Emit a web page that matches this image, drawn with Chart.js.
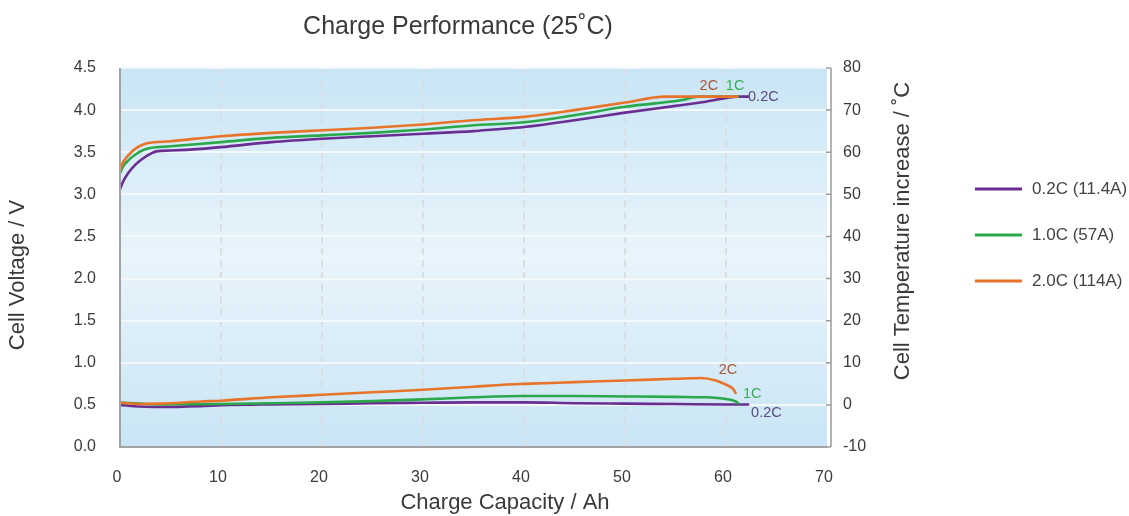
<!DOCTYPE html>
<html>
<head>
<meta charset="utf-8">
<script src="https://cdn.jsdelivr.net/npm/chart.js@4/dist/chart.umd.min.js"></script>
<style>
html,body{margin:0;padding:0;background:#fff;}
#wrap{width:1129px;height:516px;position:relative;}
</style>
</head>
<body>
<div id="wrap"><canvas id="c" width="1129" height="516"></canvas></div>
<script>
// ---- Data ----
const xTicks = [0, 10, 20, 30, 40, 50, 60, 70];
const voltTicks = [0.0, 0.5, 1.0, 1.5, 2.0, 2.5, 3.0, 3.5, 4.0, 4.5];
const tempTicks = [-10, 0, 10, 20, 30, 40, 50, 60, 70, 80];

const seriesNames = ['0.2C (11.4A)', '1.0C (57A)', '2.0C (114A)'];
const shortNames = ['0.2C', '1C', '2C'];

// Voltage curves
const capV02 = [0, 0.3, 0.8, 1.5, 2.2, 3, 3.6, 5, 8, 10, 15, 20, 25, 30, 35, 37, 40, 45, 50, 55, 58, 61.2, 62.3];
const volt02 = [3.06, 3.15, 3.25, 3.35, 3.42, 3.48, 3.51, 3.52, 3.54, 3.56, 3.62, 3.66, 3.69, 3.72, 3.75, 3.77, 3.80, 3.88, 3.97, 4.05, 4.10, 4.16, 4.16];
const capV10 = [0, 0.3, 0.8, 1.5, 2.2, 3, 5, 10, 15, 20, 25, 30, 35, 40, 45, 50, 53, 55.7, 57.2, 61.3];
const volt10 = [3.25, 3.33, 3.40, 3.47, 3.52, 3.55, 3.57, 3.62, 3.67, 3.70, 3.73, 3.77, 3.82, 3.855, 3.94, 4.04, 4.08, 4.12, 4.16, 4.16];
const capV20 = [0, 0.3, 0.8, 1.5, 2.5, 5, 10, 15, 20, 25, 30, 35, 40, 45, 50, 54, 61.2];
const volt20 = [3.28, 3.38, 3.46, 3.54, 3.60, 3.63, 3.69, 3.73, 3.76, 3.79, 3.83, 3.88, 3.92, 4.00, 4.09, 4.16, 4.16];

// Temperature-increase curves
const capT02 = [0, 2, 4, 8, 10, 15, 20, 25, 30, 35, 40, 45, 50, 55, 60, 62.3];
const temp02 = [0, -0.4, -0.5, -0.3, -0.1, 0.1, 0.2, 0.4, 0.5, 0.6, 0.6, 0.4, 0.3, 0.2, 0.1, 0.1];
const capT10 = [0, 2, 4, 10, 15, 20, 25, 30, 35, 40, 45, 50, 55, 58, 60, 61, 61.3];
const temp10 = [0.5, 0.3, 0.1, 0.2, 0.4, 0.6, 0.9, 1.3, 1.8, 2.1, 2.1, 2.0, 1.9, 1.8, 1.4, 0.8, 0.2];
const capT20 = [0, 2, 4, 8, 10, 15, 20, 25, 30, 35, 38, 40, 45, 50, 55, 57.5, 59, 60, 60.7, 61];
const temp20 = [0.5, 0.2, 0.3, 0.8, 1.0, 1.8, 2.4, 3.0, 3.6, 4.3, 4.8, 5.0, 5.4, 5.8, 6.2, 6.4, 5.8, 4.8, 3.8, 2.6];

// ---- Styling ----
const colors = ['#6a2d92', '#2aa84a', '#e8742a'];
const labelColors = ['#5b4a82', '#36ad55', '#a8573a'];
const FONT = "'Liberation Sans', Arial, sans-serif";
const TXT = '#3a3a3a';

function pts(xs, ys){ return xs.map((x,i)=>({x:x, y:ys[i]})); }

// on-chart series labels
const curveLabels = [
  {i:2, x:58.3, y:4.29, axis:'y'},
  {i:1, x:60.9, y:4.29, axis:'y'},
  {i:0, x:63.7, y:4.16, axis:'y'},
  {i:2, x:60.2, y:8.3, axis:'y2'},
  {i:1, x:62.6, y:2.6, axis:'y2'},
  {i:0, x:64.0, y:-1.9, axis:'y2'}
];

function rotText(ctx, text, x, y){
  ctx.save();
  ctx.translate(x, y);
  ctx.rotate(-Math.PI/2);
  ctx.textAlign = 'center';
  ctx.textBaseline = 'middle';
  ctx.fillText(text, 0, 0);
  ctx.restore();
}

const bgPlugin = {
  id:'bg',
  beforeDraw(chart){
    const {ctx, chartArea:a} = chart;
    ctx.save();
    const g = ctx.createLinearGradient(0, a.top, 0, a.bottom);
    g.addColorStop(0, '#c9e5f5');
    g.addColorStop(0.5, '#e9f4fb');
    g.addColorStop(1, '#c9e5f5');
    ctx.fillStyle = g;
    ctx.fillRect(a.left, a.top, a.right - a.left, a.bottom - a.top);
    ctx.restore();
  },
  afterDraw(chart){
    const {ctx, chartArea:a, scales} = chart;
    ctx.save();
    // left & bottom axis lines
    ctx.strokeStyle = '#a3a3a3';
    ctx.lineWidth = 2;
    ctx.beginPath();
    ctx.moveTo(a.left, a.top); ctx.lineTo(a.left, a.bottom); ctx.lineTo(a.right, a.bottom);
    ctx.stroke();
    // right axis with inward ticks
    const rx = a.right + 4;
    ctx.strokeStyle = '#9a9a9a';
    ctx.lineWidth = 1.5;
    ctx.beginPath();
    ctx.moveTo(rx, a.top); ctx.lineTo(rx, a.bottom);
    tempTicks.forEach(t=>{
      const y = scales.y2.getPixelForValue(t);
      ctx.moveTo(a.right - 1, y); ctx.lineTo(rx, y);
    });
    ctx.stroke();
    ctx.restore();

    // titles
    ctx.save();
    ctx.fillStyle = TXT;
    ctx.font = '25px ' + FONT;
    ctx.textAlign = 'center';
    ctx.textBaseline = 'middle';
    ctx.fillText('Charge Performance (25\u02DAC)', 458, 27);
    ctx.font = '22px ' + FONT;
    ctx.fillText('Charge Capacity / Ah', 505, 503);
    rotText(ctx, 'Cell Voltage / V', 18, 275);
    rotText(ctx, 'Cell Temperature increase / \u02DAC', 903, 231);
    ctx.restore();

    // curve labels
    ctx.save();
    ctx.font = '14.5px ' + FONT;
    ctx.textAlign = 'center';
    ctx.textBaseline = 'middle';
    curveLabels.forEach(l=>{
      ctx.fillStyle = labelColors[l.i];
      ctx.fillText(shortNames[l.i], scales.x.getPixelForValue(l.x), scales[l.axis].getPixelForValue(l.y));
    });
    ctx.restore();

    // legend
    ctx.save();
    ctx.font = '17px ' + FONT;
    ctx.textBaseline = 'middle';
    ctx.textAlign = 'left';
    const ly = [189, 235, 281];
    seriesNames.forEach((n,i)=>{
      ctx.strokeStyle = colors[i];
      ctx.lineWidth = 3;
      ctx.beginPath(); ctx.moveTo(975, ly[i]); ctx.lineTo(1022, ly[i]); ctx.stroke();
      ctx.fillStyle = '#444';
      ctx.fillText(n, 1032, ly[i]);
    });
    ctx.restore();
  }
};

const ds = (label, data, color, axis) => ({
  label, data, borderColor: color, backgroundColor: color, yAxisID: axis,
  borderWidth: 2.6, pointRadius: 0, fill: false, cubicInterpolationMode: 'monotone'
});

new Chart(document.getElementById('c'), {
  type: 'line',
  data: {
    datasets: [
      ds(seriesNames[2] + ' T', pts(capT20, temp20), colors[2], 'y2'),
      ds(seriesNames[1] + ' T', pts(capT10, temp10), colors[1], 'y2'),
      ds(seriesNames[0] + ' T', pts(capT02, temp02), colors[0], 'y2'),
      ds(seriesNames[2], pts(capV20, volt20), colors[2], 'y'),
      ds(seriesNames[1], pts(capV10, volt10), colors[1], 'y'),
      ds(seriesNames[0], pts(capV02, volt02), colors[0], 'y')
    ]
  },
  options: {
    responsive: false,
    animation: false,
    layout: { padding: { top: 68, left: 0, right: 0, bottom: 0 } },
    plugins: { legend: { display: false }, tooltip: { enabled: false }, title: { display: false } },
    scales: {
      x: {
        type: 'linear', min: 0, max: 70,
        afterFit(s){ s.height = 69; },
        afterBuildTicks(s){ s.ticks = xTicks.map(v=>({value:v})); },
        grid: {
          drawTicks: false,
          color: (c)=> (c.tick && c.tick.value > 0 && c.tick.value < 70) ? '#d9dee3' : 'rgba(0,0,0,0)',
          lineWidth: 2
        },
        border: { display: false, dash: [7, 5] },
        ticks: { padding: 21, labelOffset: -3, color: TXT, font: { size: 16, family: FONT }, maxRotation: 0 }
      },
      y: {
        type: 'linear', position: 'left', min: 0, max: 4.5,
        afterFit(s){ s.width = 120; },
        afterBuildTicks(s){ s.ticks = voltTicks.map(v=>({value:v})); },
        border: { display: false },
        grid: { drawTicks: false, color: '#f3f8fb', lineWidth: 2 },
        ticks: { padding: 24, color: TXT, font: { size: 16, family: FONT }, callback: v => Number(v).toFixed(1) }
      },
      y2: {
        type: 'linear', position: 'right', min: -10, max: 80,
        afterFit(s){ s.width = 1129 - 827; },
        afterBuildTicks(s){ s.ticks = tempTicks.map(v=>({value:v})); },
        border: { display: false },
        grid: { display: false, drawTicks: false },
        ticks: { padding: 16, color: TXT, font: { size: 16, family: FONT } }
      }
    }
  },
  plugins: [bgPlugin]
});
</script>
</body>
</html>
